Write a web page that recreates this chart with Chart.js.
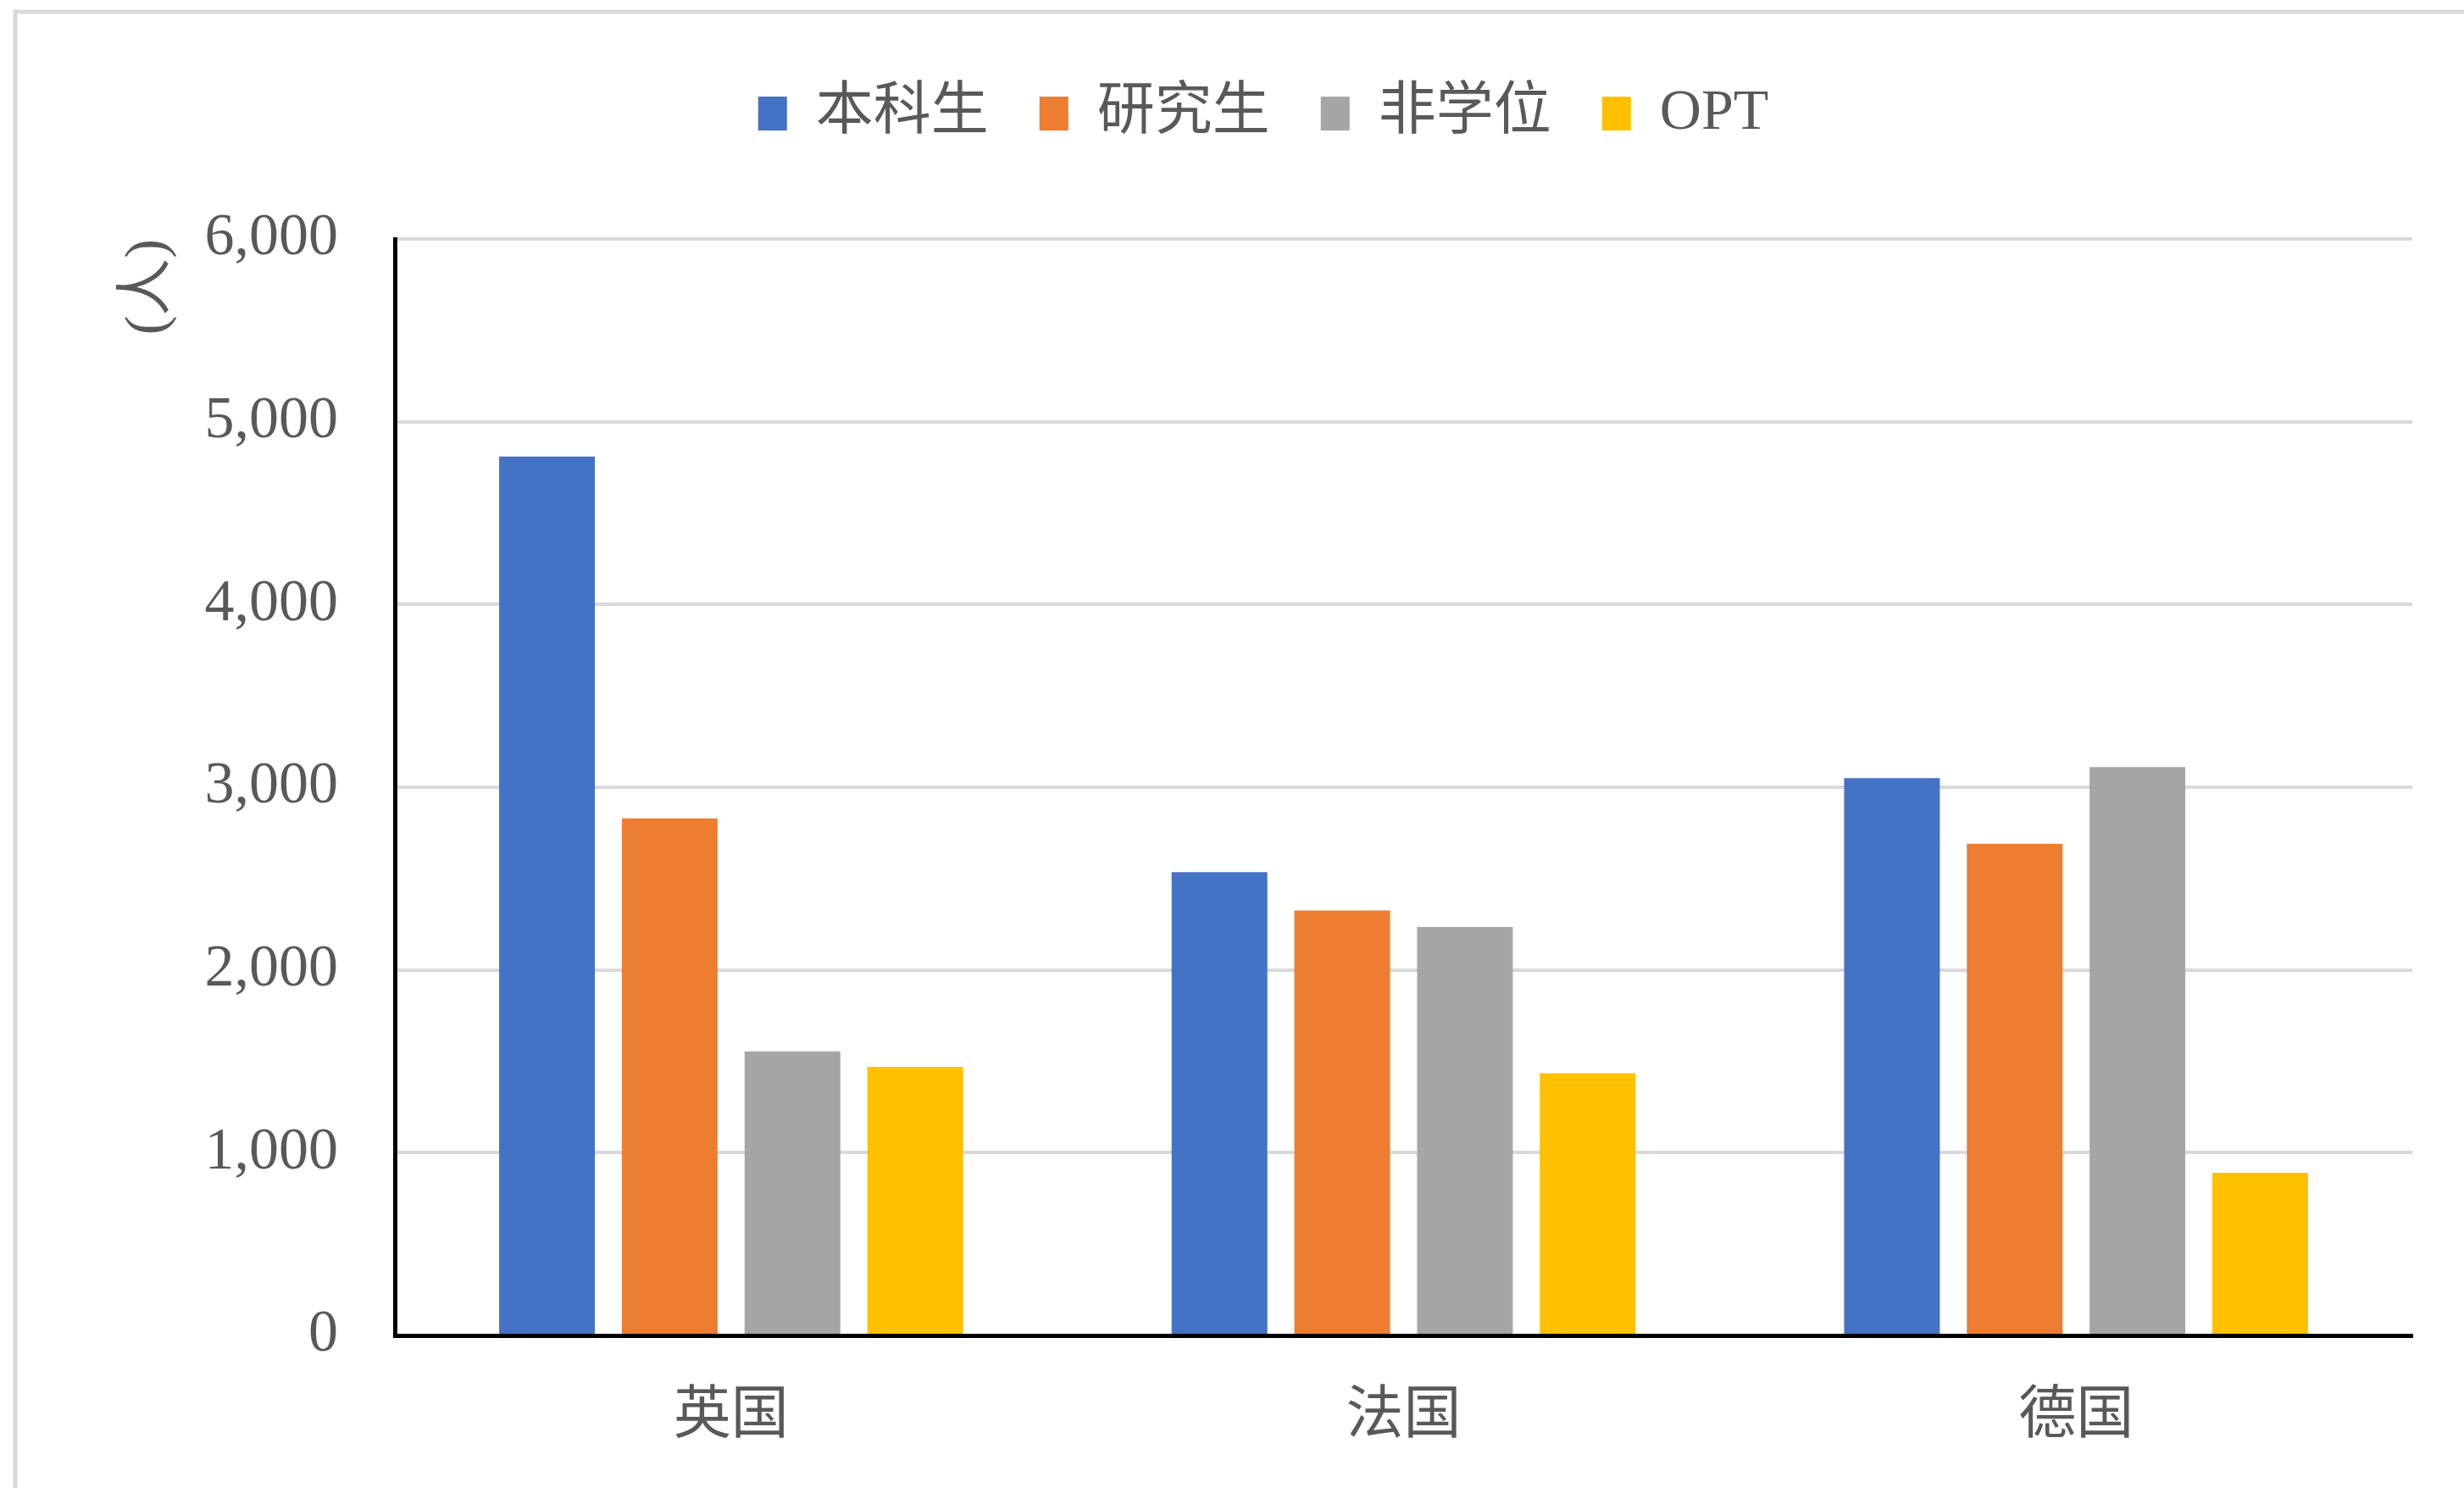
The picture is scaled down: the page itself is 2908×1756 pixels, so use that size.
<!DOCTYPE html>
<html>
<head>
<meta charset="utf-8">
<script src="https://cdn.jsdelivr.net/npm/chart.js@4"></script>
<style>
  html, body { margin: 0; padding: 0; background: #fff; }
  #wrap { width: 2908px; height: 1756px; }
</style>
</head>
<body>
<div id="wrap"><canvas id="myChart" width="2908" height="1756"></canvas></div>
<script>
"use strict";

/* Data */
const countries = ["英国", "法国", "德国"];
const undergrad = [4810, 2535, 3050];
const graduate = [2830, 2325, 2690];
const nonDegree = [1555, 2235, 3110];
const optData = [1470, 1435, 890];
const seriesNames = ["本科生", "研究生", "非学位", "OPT"];
const seriesColors = ["#4472C4", "#ED7D31", "#A5A5A5", "#FFC000"];
const yTicks = [0, 1000, 2000, 3000, 4000, 5000, 6000];

const fontFamily = "'Liberation Serif', 'Noto Sans CJK SC', serif";

/* Light frame on the left and top edges */
const framePlugin = {
  id: "frame",
  beforeDraw(chart) {
    const c = chart.ctx;
    c.save();
    c.fillStyle = "#ffffff";
    c.fillRect(0, 0, chart.width, chart.height);
    c.strokeStyle = "#d9d9d9";
    c.lineWidth = 5;
    c.beginPath();
    c.moveTo(18, chart.height);
    c.lineTo(18, 14);
    c.lineTo(chart.width, 14);
    c.stroke();
    c.restore();
  }
};

/* Extra room under the legend so the plot starts lower */
const legendSpace = {
  id: "legendSpace",
  afterInit(chart) {
    const legend = chart.legend;
    if (!legend) return;
    const fit = legend.fit;
    legend.fit = function () {
      fit.call(this);
      this.height += 104;
    };
  }
};

function createChart() {
  const ctx = document.getElementById("myChart");
  const allSeries = [undergrad, graduate, nonDegree, optData];
  new Chart(ctx, {
    type: "bar",
    data: {
      labels: countries,
      datasets: allSeries.map((d, i) => ({
        label: seriesNames[i],
        data: d,
        backgroundColor: seriesColors[i],
        borderWidth: 0,
        categoryPercentage: 0.73,
        barPercentage: 0.78
      }))
    },
    options: {
      responsive: false,
      animation: false,
      devicePixelRatio: 1,
      layout: { padding: { left: 135, right: 61, top: 40, bottom: 0 } },
      plugins: {
        tooltip: { enabled: false },
        legend: {
          position: "top",
          labels: {
            boxWidth: 34,
            boxHeight: 40,
            padding: 60,
            color: "#595959",
            font: { family: fontFamily, size: 68 }
          }
        }
      },
      scales: {
        x: {
          grid: { display: false, drawTicks: false },
          border: { color: "#000000", width: 5 },
          ticks: { color: "#595959", padding: 56, font: { family: fontFamily, size: 68 } },
          afterFit(scale) { scale.height = 180; }
        },
        y: {
          min: 0,
          max: 6000,
          afterBuildTicks(scale) { scale.ticks = yTicks.map(v => ({ value: v })); },
          grid: { color: "#d9d9d9", lineWidth: 4, drawTicks: false },
          border: { color: "#000000", width: 5 },
          ticks: {
            color: "#595959",
            padding: 67,
            font: { family: fontFamily, size: 70 },
            callback: v => v.toLocaleString("en-US")
          },
          title: {
            display: true,
            text: "(人)",
            align: "end",
            color: "#595959",
            padding: 0,
            font: { family: fontFamily, size: 68 }
          },
          afterFit(scale) { scale.width = 466 - 135; }
        }
      }
    },
    plugins: [framePlugin, legendSpace]
  });
}

createChart();
</script>
</body>
</html>
